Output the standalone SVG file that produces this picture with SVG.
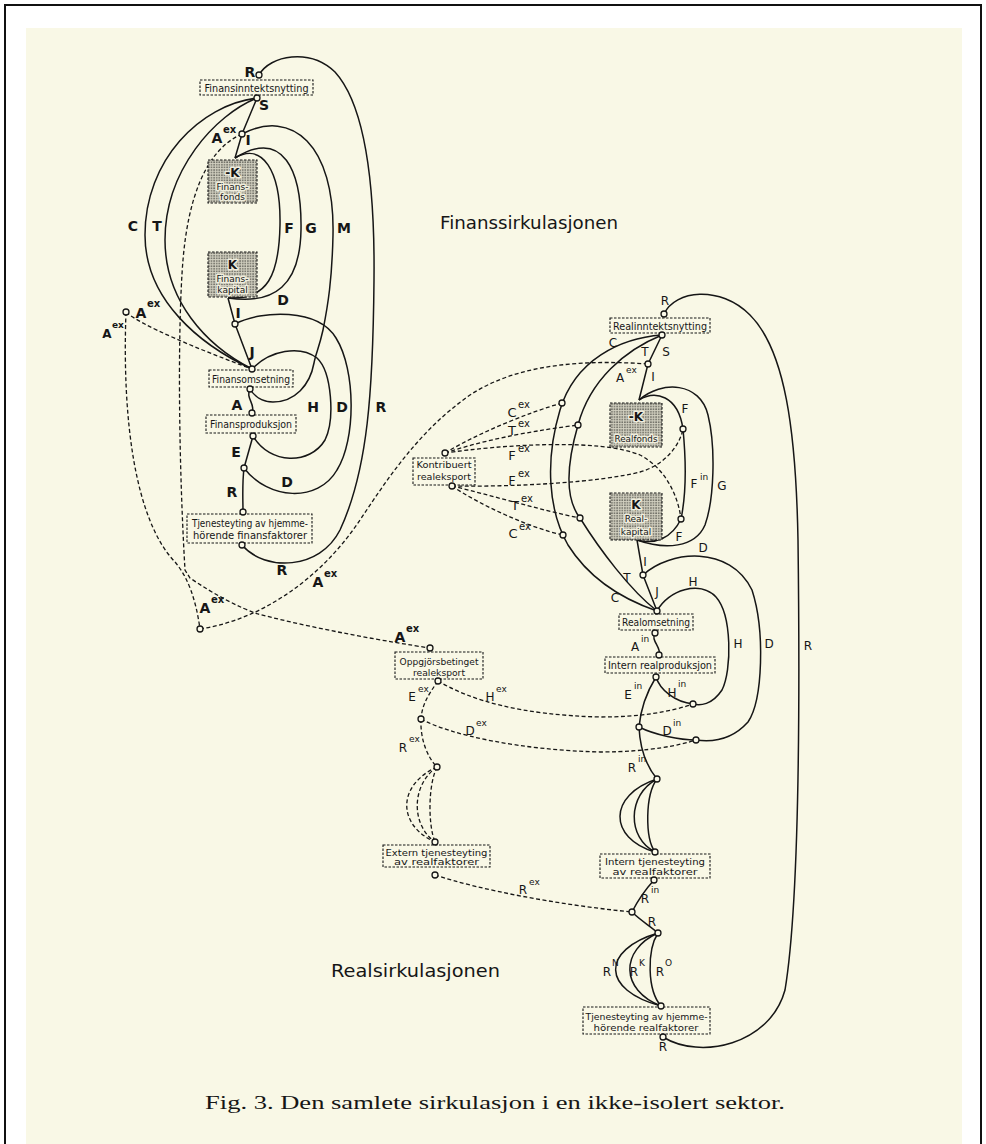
<svg xmlns="http://www.w3.org/2000/svg" width="986" height="1144" viewBox="0 0 986 1144">
<defs>
<pattern id="stip" width="2.6" height="2.6" patternUnits="userSpaceOnUse">
<rect width="2.6" height="2.6" fill="#d2d0c0"/>
<circle cx="0.9" cy="0.9" r="0.75" fill="#45453f"/>
</pattern>
<style>
.ln{fill:none;stroke:#161616;stroke-width:1.5}
.ds{fill:none;stroke:#161616;stroke-width:1.3;stroke-dasharray:4 2.5}
.bx{fill:none;stroke:#161616;stroke-width:1.1;stroke-dasharray:2.5 1.5}
.sh{fill:url(#stip);stroke:#161616;stroke-width:1.1;stroke-dasharray:2.5 1.5}
.nd{fill:#fbfaea;stroke:#161616;stroke-width:1.3}
.bt{font-family:"DejaVu Sans","Liberation Sans",sans-serif;font-size:10px;fill:#161616;text-anchor:middle}
.st{font-family:"DejaVu Sans","Liberation Sans",sans-serif;font-size:9px;fill:#161616;text-anchor:middle}
.kk{font-family:"DejaVu Sans","Liberation Sans",sans-serif;font-size:12px;font-weight:bold;fill:#161616;text-anchor:middle}
.halo{paint-order:stroke;stroke:#efeddd;stroke-width:3px;stroke-linejoin:round}
.fl{font-family:"DejaVu Sans","Liberation Sans",sans-serif;font-size:14px;font-weight:bold;fill:#161616;text-anchor:middle}
.fs{font-family:"DejaVu Sans","Liberation Sans",sans-serif;font-size:10px;font-weight:bold;fill:#161616}
.rl{font-family:"DejaVu Sans","Liberation Sans",sans-serif;font-size:12px;fill:#161616;text-anchor:middle}
.rs{font-family:"DejaVu Sans","Liberation Sans",sans-serif;font-size:9px;fill:#161616}
.ttl{font-family:"DejaVu Sans","Liberation Sans",sans-serif;font-size:18px;fill:#161616}
.cap{font-family:"Liberation Serif",serif;font-size:19px;fill:#161616}
</style>
</defs>
<rect x="0" y="0" width="986" height="1144" fill="#ffffff"/>
<rect x="26" y="28" width="936" height="1116" fill="#f9f8e6"/>
<rect x="5" y="5" width="976" height="1150" fill="none" stroke="#111" stroke-width="2"/>

<g id="connectors">
<!-- finance solid -->
<path class="ln" d="M259,75 C270,55 310,48 335,72 C365,105 375,185 374,280 C373,390 368,470 340,530 C320,570 265,572 242,545"/>
<path class="ln" d="M257,98 C200,105 145,160 145,235 C145,300 200,345 252,369"/>
<path class="ln" d="M257,98 C215,115 165,170 165,240 C165,300 205,345 252,369"/>
<path class="ln" d="M257,98 L242,134 L235,158"/>
<path class="ln" d="M235,158 C262,142 281,170 280,225 C279,275 268,300 228,298"/>
<path class="ln" d="M235,158 C283,128 302,170 301,230 C300,285 275,305 228,298"/>
<path class="ln" d="M242,134 C292,108 335,145 333,235 C332,280 328,305 323,330 C319,348 316,353 314,363 C310,385 295,402 273,402 C262,402 254,396 250,389"/>
<path class="ln" d="M228,298 L235,324 L252,369"/>
<path class="ln" d="M235,324 C262,310 318,308 336,338 C356,370 356,440 337,470 C318,503 268,500 244,468"/>
<path class="ln" d="M252,369 C270,350 300,345 317,358 C332,372 335,420 325,440 C310,465 270,465 253,436"/>
<path class="ln" d="M250,389 C245,398 256,404 252,413"/>
<path class="ln" d="M253,436 L244,468"/>
<path class="ln" d="M244,468 C242,485 243,500 243,512"/>
<!-- finance dashed -->
<path class="ds" d="M242,134 C205,150 188,200 183,260 C178,320 178,450 185,570 L190,578 C215,595 240,608 258,614 C320,630 390,642 430,648"/>
<path class="ds" d="M126,312 C122,420 135,520 175,562 C188,577 196,600 200,629"/>
<path class="ds" d="M126,312 C140,325 200,350 252,369"/>
<path class="ds" d="M200,629 C260,620 320,580 360,520 C390,475 420,430 470,395 C520,362 590,360 648,364"/>
<!-- real solid -->
<path class="ln" d="M664,314 C675,290 720,285 750,315 C785,350 796,430 798,540 C800,700 800,900 785,990 C770,1045 700,1060 663,1037"/>
<path class="ln" d="M662,335 C620,338 575,360 560,410 C545,460 548,510 568,545 C590,580 625,600 657,611"/>
<path class="ln" d="M662,335 C625,350 590,380 578,425 C565,470 566,500 580,518 C600,550 630,590 657,611"/>
<path class="ln" d="M662,335 L648,364 L639,400"/>
<path class="ln" d="M639,400 C655,390 678,395 683,429 C686,460 686,495 681,519 C672,538 655,545 637,540"/>
<path class="ln" d="M639,400 C662,380 700,382 708,415 C716,448 714,500 705,525 C695,548 665,550 637,540"/>
<path class="ln" d="M637,540 L643,575 L657,611"/>
<path class="ln" d="M643,575 C670,550 730,545 752,590 C765,630 763,700 748,722 C730,742 710,742 696,740 C680,740 655,735 639,727"/>
<path class="ln" d="M657,611 C668,590 700,580 716,597 C732,615 732,670 722,690 C712,705 700,706 693,704 C675,702 660,690 656,677"/>
<path class="ln" d="M655,633 C650,640 662,648 659,655"/>
<path class="ln" d="M656,677 C648,690 641,705 639,727"/>
<path class="ln" d="M639,727 C640,750 648,768 657,779"/>
<path class="ln" d="M657,779 C608,795 608,838 655,852"/>
<path class="ln" d="M657,779 C627,795 627,838 655,852"/>
<path class="ln" d="M657,779 C645,795 645,838 655,852"/>
<path class="ln" d="M654,880 C645,890 638,900 632,912"/>
<path class="ln" d="M632,912 C640,920 650,926 658,933"/>
<path class="ln" d="M658,933 C601,950 601,990 661,1006"/>
<path class="ln" d="M658,933 C620,950 620,990 661,1006"/>
<path class="ln" d="M658,933 C647,950 647,990 661,1006"/>
<!-- real dashed -->
<path class="ds" d="M445,453 C480,432 530,412 562,403"/>
<path class="ds" d="M445,453 C490,438 540,430 578,425"/>
<path class="ds" d="M445,453 C500,445 600,438 640,455 C665,468 678,495 681,519"/>
<path class="ds" d="M452,486 C520,487 600,482 640,472 C665,465 680,445 683,429"/>
<path class="ds" d="M452,486 C490,495 540,510 580,518"/>
<path class="ds" d="M452,486 C480,505 530,528 563,535"/>
<path class="ds" d="M438,681 C470,700 520,715 600,717 C640,717 670,712 693,704"/>
<path class="ds" d="M438,681 C428,695 422,705 421,719"/>
<path class="ds" d="M421,719 C450,735 520,750 600,752 C650,752 680,745 696,740"/>
<path class="ds" d="M421,719 C420,740 428,758 437,767"/>
<path class="ds" d="M437,767 C397,785 397,825 435,842"/>
<path class="ds" d="M437,767 C411,785 411,825 435,842"/>
<path class="ds" d="M437,767 C428,785 428,825 435,842"/>
<path class="ds" d="M435,875 C480,890 560,905 632,912"/>
</g>

<g id="finansinntektsnytting"><rect class="bx" x="200" y="80" width="113" height="15"/><text class="bt" x="256.5" y="91.5" textLength="104" lengthAdjust="spacingAndGlyphs">Finansinntektsnytting</text></g>
<g id="finansfonds"><rect class="sh" x="208" y="160" width="49" height="43"/><text class="kk halo" x="232.5" y="177">-K</text><text class="st halo" x="232.5" y="189.5">Finans-</text><text class="st halo" x="232.5" y="200">fonds</text></g>
<g id="finanskapital"><rect class="sh" x="208" y="252" width="49" height="45"/><text class="kk halo" x="232.5" y="269">K</text><text class="st halo" x="232.5" y="281.5">Finans-</text><text class="st halo" x="232.5" y="293">kapital</text></g>
<g id="finansomsetning"><rect class="bx" x="209" y="370" width="84" height="17"/><text class="bt" x="251" y="382.5" textLength="78" lengthAdjust="spacingAndGlyphs">Finansomsetning</text></g>
<g id="finansproduksjon"><rect class="bx" x="206" y="415" width="90" height="18"/><text class="bt" x="251" y="428" textLength="82" lengthAdjust="spacingAndGlyphs">Finansproduksjon</text></g>
<g id="tjenesteyting-finans"><rect class="bx" x="187" y="514" width="125" height="29"/><text class="bt" x="250" y="526.5" textLength="116" lengthAdjust="spacingAndGlyphs">Tjenesteyting av hjemme-</text><text class="bt" x="250" y="539" textLength="114" lengthAdjust="spacingAndGlyphs">hörende finansfaktorer</text></g>

<g id="realinntektsnytting"><rect class="bx" x="610" y="318" width="100" height="15"/><text class="bt" x="660" y="329.5" textLength="94" lengthAdjust="spacingAndGlyphs">Realinntektsnytting</text></g>
<g id="realfonds"><rect class="sh" x="610" y="403" width="52" height="44"/><text class="kk halo" x="636" y="421">-K</text><text class="st halo" x="636" y="442" textLength="43" lengthAdjust="spacingAndGlyphs">Realfonds</text></g>
<g id="realkapital"><rect class="sh" x="610" y="493" width="52" height="47"/><text class="kk halo" x="636" y="509">K</text><text class="st halo" x="636" y="522">Real-</text><text class="st halo" x="636" y="535">kapital</text></g>
<g id="realomsetning"><rect class="bx" x="619" y="614" width="74" height="16"/><text class="bt" x="656" y="626" textLength="68" lengthAdjust="spacingAndGlyphs">Realomsetning</text></g>
<g id="intern-realproduksjon"><rect class="bx" x="605" y="657" width="110" height="16"/><text class="bt" x="660" y="669" textLength="104" lengthAdjust="spacingAndGlyphs">Intern realproduksjon</text></g>
<g id="kontribuert-realeksport"><rect class="bx" x="413" y="458" width="62" height="27"/><text class="st" x="444" y="468" textLength="55" lengthAdjust="spacingAndGlyphs">Kontribuert</text><text class="st" x="444" y="480" textLength="54" lengthAdjust="spacingAndGlyphs">realeksport</text></g>
<g id="oppgjorsbetinget-realeksport"><rect class="bx" x="395" y="652" width="88" height="27"/><text class="st" x="439" y="665" textLength="79" lengthAdjust="spacingAndGlyphs">Oppgjörsbetinget</text><text class="st" x="439" y="676" textLength="52" lengthAdjust="spacingAndGlyphs">realeksport</text></g>
<g id="intern-tjenesteyting"><rect class="bx" x="600" y="854" width="110" height="24"/><text class="st" x="655" y="865" textLength="100" lengthAdjust="spacingAndGlyphs">Intern tjenesteyting</text><text class="st" x="655" y="875" textLength="85" lengthAdjust="spacingAndGlyphs">av realfaktorer</text></g>
<g id="extern-tjenesteyting"><rect class="bx" x="383" y="845" width="107" height="22"/><text class="st" x="436.5" y="855.5" textLength="102" lengthAdjust="spacingAndGlyphs">Extern tjenesteyting</text><text class="st" x="436.5" y="864.5" textLength="85" lengthAdjust="spacingAndGlyphs">av realfaktorer</text></g>
<g id="tjenesteyting-real"><rect class="bx" x="583" y="1007" width="127" height="27"/><text class="st" x="646.5" y="1019.5" textLength="122" lengthAdjust="spacingAndGlyphs">Tjenesteyting av hjemme-</text><text class="st" x="646" y="1030.5" textLength="105" lengthAdjust="spacingAndGlyphs">hörende realfaktorer</text></g>

<g id="ports">
<circle class="nd" cx="259" cy="75" r="3"/><circle class="nd" cx="257" cy="98" r="3"/><circle class="nd" cx="242" cy="134" r="3"/>
<circle class="nd" cx="235" cy="324" r="3"/><circle class="nd" cx="252" cy="369" r="3"/><circle class="nd" cx="250" cy="389" r="3"/>
<circle class="nd" cx="252" cy="413" r="3"/><circle class="nd" cx="253" cy="436" r="3"/><circle class="nd" cx="244" cy="468" r="3"/>
<circle class="nd" cx="243" cy="512" r="3"/><circle class="nd" cx="242" cy="545" r="3"/><circle class="nd" cx="126" cy="312" r="3"/>
<circle class="nd" cx="200" cy="629" r="3"/><circle class="nd" cx="430" cy="648" r="3"/>
<circle class="nd" cx="664" cy="314" r="3"/><circle class="nd" cx="662" cy="335" r="3"/><circle class="nd" cx="648" cy="364" r="3"/>
<circle class="nd" cx="683" cy="429" r="3"/><circle class="nd" cx="681" cy="519" r="3"/><circle class="nd" cx="562" cy="403" r="3"/>
<circle class="nd" cx="578" cy="425" r="3"/><circle class="nd" cx="580" cy="518" r="3"/><circle class="nd" cx="563" cy="535" r="3"/>
<circle class="nd" cx="643" cy="575" r="3"/><circle class="nd" cx="657" cy="611" r="3"/><circle class="nd" cx="655" cy="633" r="3"/>
<circle class="nd" cx="659" cy="655" r="3"/><circle class="nd" cx="656" cy="677" r="3"/><circle class="nd" cx="693" cy="704" r="3"/>
<circle class="nd" cx="639" cy="727" r="3"/><circle class="nd" cx="696" cy="740" r="3"/><circle class="nd" cx="657" cy="779" r="3"/>
<circle class="nd" cx="655" cy="852" r="3"/><circle class="nd" cx="654" cy="880" r="3"/><circle class="nd" cx="632" cy="912" r="3"/>
<circle class="nd" cx="658" cy="933" r="3"/><circle class="nd" cx="661" cy="1006" r="3"/><circle class="nd" cx="663" cy="1037" r="3"/>
<circle class="nd" cx="445" cy="453" r="3"/><circle class="nd" cx="452" cy="486" r="3"/><circle class="nd" cx="438" cy="681" r="3"/>
<circle class="nd" cx="421" cy="719" r="3"/><circle class="nd" cx="437" cy="767" r="3"/><circle class="nd" cx="435" cy="842" r="3"/>
<circle class="nd" cx="435" cy="875" r="3"/>
</g>

<g id="labels-finans">
<text class="fl" x="250" y="77">R</text>
<text class="fl" x="264" y="110">S</text>
<text class="fl" x="217" y="143">A</text><text class="fs" x="223" y="133">ex</text>
<text class="fl" x="248" y="145">I</text>
<text class="fl" x="133" y="231">C</text><text class="fl" x="157" y="231">T</text>
<text class="fl" x="289" y="233">F</text><text class="fl" x="311" y="233">G</text><text class="fl" x="344" y="233">M</text>
<text class="fl" x="283" y="305">D</text>
<text class="fl" x="238" y="318">I</text>
<text class="fl" x="252" y="357">J</text>
<text class="fl" x="237" y="410">A</text>
<text class="fl" x="313" y="412">H</text><text class="fl" x="342" y="412">D</text><text class="fl" x="381" y="412">R</text>
<text class="fl" x="236" y="457">E</text>
<text class="fl" x="287" y="487">D</text>
<text class="fl" x="232" y="497">R</text>
<text class="fl" x="282" y="575">R</text>
<text class="fl" x="141" y="318">A</text><text class="fs" x="147" y="307">ex</text>
<text class="fl" x="107" y="338" style="font-size:12px">A</text><text class="fs" x="112" y="328" style="font-size:9px">ex</text>
<text class="fl" x="205" y="613">A</text><text class="fs" x="211" y="603">ex</text>
<text class="fl" x="318" y="587">A</text><text class="fs" x="324" y="577">ex</text>
<text class="fl" x="400" y="642">A</text><text class="fs" x="406" y="632">ex</text>
</g>

<g id="labels-real">
<text class="rl" x="665" y="305">R</text>
<text class="rl" x="613" y="347">C</text><text class="rl" x="645" y="356">T</text><text class="rl" x="666" y="356">S</text>
<text class="rl" x="620" y="382">A</text><text class="rs" x="626" y="373">ex</text>
<text class="rl" x="653" y="381">I</text>
<text class="rl" x="685" y="413">F</text>
<text class="rl" x="512" y="417" style="font-size:13px">C</text><text class="rs" x="518" y="408" style="font-size:10px">ex</text>
<text class="rl" x="512" y="435" style="font-size:13px">T</text><text class="rs" x="518" y="427" style="font-size:10px">ex</text>
<text class="rl" x="512" y="460" style="font-size:13px">F</text><text class="rs" x="518" y="452" style="font-size:10px">ex</text>
<text class="rl" x="512" y="485" style="font-size:13px">F</text><text class="rs" x="518" y="477" style="font-size:10px">ex</text>
<text class="rl" x="515" y="510" style="font-size:13px">T</text><text class="rs" x="521" y="502" style="font-size:10px">ex</text>
<text class="rl" x="513" y="538" style="font-size:13px">C</text><text class="rs" x="519" y="530" style="font-size:10px">ex</text>
<text class="rl" x="694" y="488">F</text><text class="rs" x="700" y="480">in</text>
<text class="rl" x="722" y="490">G</text>
<text class="rl" x="679" y="541">F</text>
<text class="rl" x="703" y="552">D</text>
<text class="rl" x="645" y="566">I</text>
<text class="rl" x="627" y="582">T</text><text class="rl" x="615" y="602">C</text><text class="rl" x="657" y="596">J</text><text class="rl" x="693" y="586">H</text>
<text class="rl" x="635" y="651">A</text><text class="rs" x="641" y="642">in</text>
<text class="rl" x="738" y="648">H</text><text class="rl" x="769" y="648">D</text><text class="rl" x="808" y="650">R</text>
<text class="rl" x="412" y="701">E</text><text class="rs" x="418" y="692">ex</text>
<text class="rl" x="490" y="701">H</text><text class="rs" x="496" y="692">ex</text>
<text class="rl" x="628" y="699">E</text><text class="rs" x="634" y="689">in</text>
<text class="rl" x="672" y="697">H</text><text class="rs" x="678" y="687">in</text>
<text class="rl" x="470" y="735">D</text><text class="rs" x="476" y="726">ex</text>
<text class="rl" x="667" y="735">D</text><text class="rs" x="673" y="726">in</text>
<text class="rl" x="403" y="752">R</text><text class="rs" x="409" y="742">ex</text>
<text class="rl" x="632" y="772">R</text><text class="rs" x="638" y="762">in</text>
<text class="rl" x="645" y="903">R</text><text class="rs" x="651" y="893">in</text>
<text class="rl" x="652" y="926">R</text>
<text class="rl" x="607" y="976">R</text><text class="rs" x="612" y="966">N</text>
<text class="rl" x="634" y="976">R</text><text class="rs" x="639" y="966">K</text>
<text class="rl" x="660" y="976">R</text><text class="rs" x="665" y="966">O</text>
<text class="rl" x="663" y="1051">R</text>
<text class="rl" x="523" y="894">R</text><text class="rs" x="529" y="885">ex</text>
</g>

<g id="titles">
<text class="ttl" x="440" y="229" textLength="178" lengthAdjust="spacingAndGlyphs">Finanssirkulasjonen</text>
<text class="ttl" x="331" y="977" textLength="169" lengthAdjust="spacingAndGlyphs">Realsirkulasjonen</text>
<text class="cap" x="205" y="1109" textLength="580" lengthAdjust="spacingAndGlyphs">Fig. 3.  Den samlete sirkulasjon i en ikke-isolert sektor.</text>
</g>
</svg>
